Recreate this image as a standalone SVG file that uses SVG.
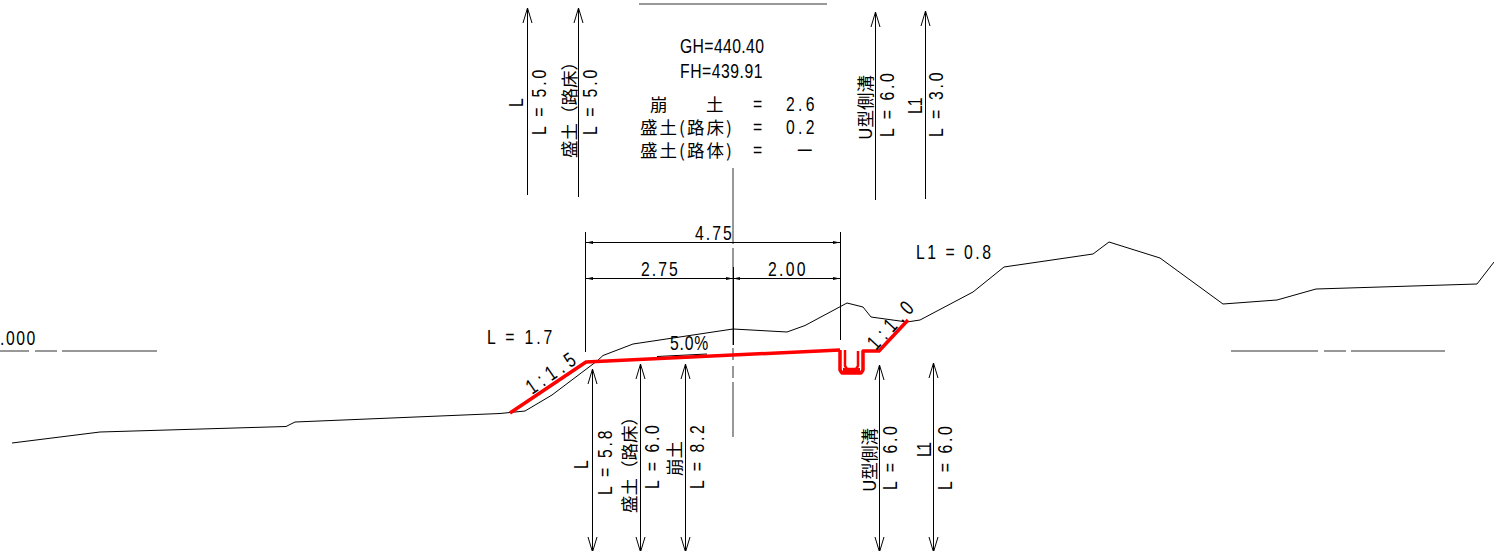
<svg xmlns="http://www.w3.org/2000/svg" width="1494" height="551" viewBox="0 0 1494 551">
<style>
.l{fill:none;stroke:#000;stroke-width:1}
.g{fill:none;stroke:#777;stroke-width:1.5}
.r{fill:none;stroke:#f00;stroke-width:3.500;stroke-linejoin:round}
.a{marker-end:url(#open)}
.b{marker-start:url(#open);marker-end:url(#open)}
.d{marker-start:url(#dim);marker-end:url(#dim)}
text{fill:#000;font-size:21px;font-family:"Liberation Sans","Noto Sans CJK JP",sans-serif}
.j{font-size:17.500px;font-family:"Noto Sans CJK JP","Liberation Sans",sans-serif}
</style>
<defs>
<marker id="open" markerUnits="userSpaceOnUse" markerWidth="18" markerHeight="12" refX="15" refY="6" orient="auto-start-reverse"><path d="M0 1.500L15 6L0 10.500" fill="none" stroke="#000" stroke-width="1"/></marker>
<marker id="dim" markerUnits="userSpaceOnUse" markerWidth="8" markerHeight="6" refX="7" refY="3" orient="auto-start-reverse"><path d="M0 1.500L7 3L0 4.500Z" fill="#000"/></marker>
</defs>
<g id="connectors">
<path class="g" d="M639 4H827"/>
<path class="l a" d="M527.500 195V8"/>
<path class="l a" d="M578.500 197V8"/>
<path class="l a" d="M875.500 200V12"/>
<path class="l a" d="M925.500 199V11"/>
<path class="l b" d="M592.500 552V369"/>
<path class="l b" d="M640.500 552V364"/>
<path class="l b" d="M685.500 552V364"/>
<path class="l b" d="M879.500 552V365"/>
<path class="l b" d="M933.500 552V363"/>
<path class="g" d="M733 168V244M733 248V345M733 348V360M733 366V378M733 382V437"/>
<path class="l" d="M733.500 267V345"/>
<path class="l" d="M585.500 232V352M840.500 232V340"/>
<path class="l d" d="M586 242.500H840"/>
<path class="l d" d="M586 278.500H733"/>
<path class="l d" d="M733 278.500H840"/>
<path class="l" d="M657 356.500L707 354"/>
<path class="g" d="M0 351H29M35 351H57M62 351H157M1231 351H1318M1324 351H1346M1351 351H1445"/>
</g>
<g id="terrain">
<path class="l" d="M12 443L100 432L286 426.500L295 422L500 413.500L525 411L552 395L597 361L603 355.500L633 344L733 329L787 332L805 325.500L847 303L863 307L871 317L907 322L920 320L973 292L1004 267L1093 254L1109 242L1160 258L1223 304L1277 300L1316 289L1477 284L1494 262"/>
</g>
<g id="design">
<path class="r" d="M510 413L586 362L840 350"/>
<path class="r" d="M840 350V370L842 373H861L863 370V351H879L908 320"/>
<path class="r" style="stroke-width:2.500" d="M845 350V366L847 369H856L858 366V351"/>
<path class="r" style="stroke-width:5" d="M843 370.500H860"/>
</g>
<g id="summary">
<text transform="translate(680 53) scale(.75 1)" textLength="112" lengthAdjust="spacing">GH=440.40</text>
<text transform="translate(680 78) scale(.75 1)" textLength="110" lengthAdjust="spacing">FH=439.91</text>
<text class="j" x="650" y="111">崩</text><text class="j" x="706" y="111">土</text>
<text class="j" x="640" y="134" textLength="92" lengthAdjust="spacing">盛土(路床)</text>
<text class="j" x="640" y="157" textLength="92" lengthAdjust="spacing">盛土(路体)</text>
<text transform="translate(753 111) scale(.75 1)">=</text>
<text transform="translate(753 134) scale(.75 1)">=</text>
<text transform="translate(753 157) scale(.75 1)">=</text>
<text transform="translate(786 111) scale(.75 1)" textLength="38" lengthAdjust="spacing">2.6</text>
<text transform="translate(786 134) scale(.75 1)" textLength="38" lengthAdjust="spacing">0.2</text>
<text class="j" x="796" y="157">ー</text>
</g>
<g id="dimensions">
<text transform="translate(695 240) scale(.75 1)" textLength="49" lengthAdjust="spacing">4.75</text>
<text transform="translate(641 276) scale(.75 1)" textLength="49" lengthAdjust="spacing">2.75</text>
<text transform="translate(768 276) scale(.75 1)" textLength="50" lengthAdjust="spacing">2.00</text>
<text transform="translate(487 344) scale(.75 1)" textLength="87" lengthAdjust="spacing">L = 1.7</text>
<text transform="translate(916 259) scale(.75 1)" textLength="100" lengthAdjust="spacing">L1 = 0.8</text>
<text transform="translate(670 350) scale(.75 1)" textLength="51" lengthAdjust="spacing">5.0%</text>
<text transform="translate(0 345) scale(.75 1)" textLength="47" lengthAdjust="spacing">.000</text>
<text transform="translate(532 395) rotate(-35) scale(.75 1)" textLength="74" lengthAdjust="spacing">1:1.5</text>
<text transform="translate(876 351) rotate(-47) scale(.75 1)" textLength="76" lengthAdjust="spacing">1:1.0</text>
</g>
<g id="upper-labels">
<text transform="translate(523 107) rotate(-90) scale(.75 1)">L</text>
<text transform="translate(545.500 135) rotate(-90) scale(.75 1)" textLength="87" lengthAdjust="spacing">L = 5.0</text>
<text class="j" transform="translate(576 158) rotate(-90)" textLength="105" lengthAdjust="spacing">盛土（路床）</text>
<text transform="translate(597 135) rotate(-90) scale(.75 1)" textLength="87" lengthAdjust="spacing">L = 5.0</text>
<text class="j" transform="translate(872 140) rotate(-90)" textLength="65" lengthAdjust="spacing">U型側溝</text>
<text transform="translate(894 137) rotate(-90) scale(.75 1)" textLength="85" lengthAdjust="spacing">L = 6.0</text>
<text transform="translate(922 114) rotate(-90) scale(.75 1)" textLength="22" lengthAdjust="spacing">L1</text>
<text transform="translate(943 137) rotate(-90) scale(.75 1)" textLength="86" lengthAdjust="spacing">L = 3.0</text>
</g>
<g id="lower-labels">
<text transform="translate(588 469) rotate(-90) scale(.75 1)">L</text>
<text transform="translate(611.500 495) rotate(-90) scale(.75 1)" textLength="86" lengthAdjust="spacing">L = 5.8</text>
<text class="j" transform="translate(636 513) rotate(-90)" textLength="105" lengthAdjust="spacing">盛土（路床）</text>
<text transform="translate(659 489) rotate(-90) scale(.75 1)" textLength="85" lengthAdjust="spacing">L = 6.0</text>
<text class="j" transform="translate(681 476) rotate(-90)" textLength="35" lengthAdjust="spacing">崩土</text>
<text transform="translate(704 489) rotate(-90) scale(.75 1)" textLength="85" lengthAdjust="spacing">L = 8.2</text>
<text class="j" transform="translate(876 492) rotate(-90)" textLength="64" lengthAdjust="spacing">U型側溝</text>
<text transform="translate(897 490) rotate(-90) scale(.75 1)" textLength="85" lengthAdjust="spacing">L = 6.0</text>
<text transform="translate(931 457) rotate(-90) scale(.75 1)" textLength="20" lengthAdjust="spacing">L1</text>
<text transform="translate(952 490) rotate(-90) scale(.75 1)" textLength="85" lengthAdjust="spacing">L = 6.0</text>
</g>
</svg>
